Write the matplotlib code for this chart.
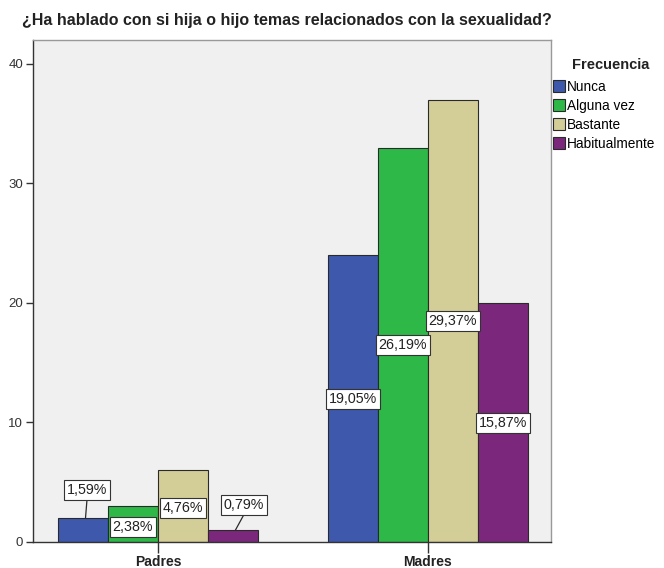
import matplotlib
matplotlib.use("Agg")
import matplotlib.pyplot as plt
import numpy as np

plt.rcParams['font.family'] = ['Liberation Sans', 'DejaVu Sans']

groups = ["Padres", "Madres"]
series = ["Nunca", "Alguna vez", "Bastante", "Habitualmente"]
counts = {
    "Nunca": [2, 24],
    "Alguna vez": [3, 33],
    "Bastante": [6, 37],
    "Habitualmente": [1, 20],
}
pct_labels = {
    "Nunca": ["1,59%", "19,05%"],
    "Alguna vez": ["2,38%", "26,19%"],
    "Bastante": ["4,76%", "29,37%"],
    "Habitualmente": ["0,79%", "15,87%"],
}
colors = ["#3E58AC", "#2EB848", "#D3CE97", "#7B287C"]
yticks = [0, 10, 20, 30, 40]

# label positions (y in data units, x offset in bar widths) - layout only
label_y = {
    "Nunca": [4.35, 11.97],
    "Alguna vez": [1.26, 16.5],
    "Bastante": [2.85, 18.5],
    "Habitualmente": [3.1, 9.96],
}
label_dx = {
    "Nunca": [0.08, 0.0],
    "Alguna vez": [0.0, 0.0],
    "Bastante": [0.0, 0.0],
    "Habitualmente": [0.22, 0.0],
}
leader = {"Nunca": [True, False], "Alguna vez": [False, False],
          "Bastante": [False, False], "Habitualmente": [True, False]}

fig = plt.figure(figsize=(6.64, 5.68), dpi=100)
ax = fig.add_axes([33/664, 1 - 542/568, (551-33)/664, (542-40)/568])
ax.set_facecolor("#F0F0F0")

x = np.arange(len(groups))
w = 50/270
for i, s in enumerate(series):
    xs = x + (i - 1.5) * w
    ax.bar(xs, counts[s], width=w, color=colors[i], edgecolor="#2a2a2a",
           linewidth=0.8, label=s, zorder=2)
    for j in range(len(groups)):
        lx = xs[j] + label_dx[s][j] * w
        ly = label_y[s][j]
        if leader[s][j]:
            ax.plot([xs[j] + 0.05*w, lx + 0.0*w], [counts[s][j], ly - 0.8],
                    color="#2a2a2a", lw=0.9, zorder=3)
        ax.text(lx, ly, pct_labels[s][j], ha="center", va="center", fontsize=10.3,
                color="#222222", zorder=4,
                bbox=dict(boxstyle="square,pad=0.22", fc="white", ec="#333333", lw=0.8))

ax.set_xlim(-0.463, 1.456)
ax.set_ylim(0, 42)
ax.set_yticks(yticks)
ax.set_yticklabels([str(v) for v in yticks], fontsize=9.5, color="#333333")
ax.set_xticks(x)
ax.set_xticklabels(groups, fontsize=10, fontweight="bold", color="#222222")
ax.tick_params(axis="y", length=5, width=1, color="#333333", pad=2)
ax.tick_params(axis="x", length=8, width=1, color="#333333", pad=1)
for sp in ["left", "bottom"]:
    ax.spines[sp].set_color("#333333")
    ax.spines[sp].set_linewidth(1.0)
for sp in ["top", "right"]:
    ax.spines[sp].set_color("#999999")
    ax.spines[sp].set_linewidth(1.0)

fig.text(22/664, 1 - 20/568, "¿Ha hablado con si hija o hijo temas relacionados con la sexualidad?",
         fontsize=11.5, fontweight="bold", va="center", ha="left", color="#222222")

fig.text(611/664, 1 - 65/568, "Frecuencia", fontsize=10.5, fontweight="bold",
         ha="center", va="center", color="#222222")
leg = ax.legend(loc="upper left", bbox_to_anchor=(553/664, 1 - 80/568),
                bbox_transform=fig.transFigure, frameon=False, fontsize=9.8,
                handlelength=0.85, handleheight=1.0,
                handletextpad=0.2, labelspacing=0.36, borderpad=0, borderaxespad=0)

fig.savefig("out.png", dpi=100)
